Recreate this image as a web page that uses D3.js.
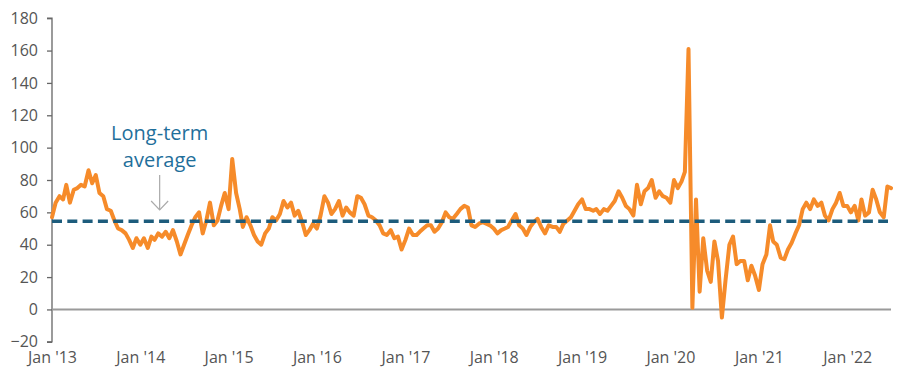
<!DOCTYPE html>
<html>
<head>
<meta charset="utf-8">
<script src="https://cdn.jsdelivr.net/npm/d3@7"></script>
<style>
  html, body { margin: 0; padding: 0; background: #fff; }
  svg { display: block; }
  text { font-family: "Open Sans", "Noto Sans", sans-serif; }
</style>
</head>
<body>
<svg id="chart" width="900" height="378"></svg>
<script>
// Semi-monthly readings (1st and 16th of each month) from Jan 2013 to Jul 2022
const startDate = "2013-01-01";
const values = [
  // 2013
  57, 66, 70, 68, 77, 66, 74, 75, 77, 76, 86, 78, 83, 72, 70, 62, 61, 55, 50, 49, 47, 43, 38, 44,
  // 2014
  40, 44, 38, 45, 43, 47, 45, 48, 44, 49, 42, 34, 40, 46, 52, 57, 60, 47, 55, 66, 52, 55, 64, 72,
  // 2015
  62, 93, 72, 62, 51, 57, 52, 46, 42, 40, 47, 50, 57, 55, 59, 67, 63, 66, 58, 61, 54, 46, 49, 53,
  // 2016
  50, 58, 70, 66, 59, 62, 67, 58, 63, 60, 58, 70, 69, 65, 58, 57, 55, 52, 47, 46, 49, 44, 45, 37,
  // 2017
  43, 50, 46, 46, 48, 50, 52, 52, 48, 50, 54, 60, 57, 56, 59, 62, 64, 63, 52, 51, 53, 54, 53, 52,
  // 2018
  50, 47, 49, 50, 51, 55, 59, 52, 50, 46, 51, 54, 56, 51, 47, 52, 51, 51, 48, 53, 55, 57, 61, 65,
  // 2019
  68, 62, 62, 61, 62, 59, 62, 61, 64, 67, 73, 69, 64, 62, 58, 77, 65, 73, 75, 80, 69, 73, 70, 69,
  // 2020
  66, 80, 75, 79, 85, 161, 1, 68, 11, 44, 24, 17, 42, 30, -5, 18, 40, 45, 28, 30, 30, 18, 27, 21,
  // 2021
  12, 28, 34, 52, 42, 40, 32, 31, 37, 41, 47, 52, 62, 66, 62, 68, 64, 66, 58, 55, 62, 66, 72, 64,
  // 2022
  64, 60, 64, 55, 68, 58, 60, 74, 68, 60, 57, 76, 75
];
const longTermAverage = 54.5;
const yTicks = [-20, 0, 20, 40, 60, 80, 100, 120, 140, 160, 180];
const xTickLabels = ["Jan '13", "Jan '14", "Jan '15", "Jan '16", "Jan '17", "Jan '18", "Jan '19", "Jan '20", "Jan '21", "Jan '22"];
const xTickYears = [2013, 2014, 2015, 2016, 2017, 2018, 2019, 2020, 2021, 2022];
const annotationLines = ["Long-term", "average"];
const annotationDate = "2014-03-22";

const parse = d3.timeParse("%Y-%m-%d");
const start = parse(startDate);
const data = values.map((v, i) => {
  const m = d3.timeMonth.offset(start, Math.floor(i / 2));
  return { date: i % 2 ? d3.timeDay.offset(m, 15) : m, value: v };
});

const svg = d3.select("#chart");
const margin = { left: 52 };

const x = d3.scaleTime()
  .domain([parse("2013-01-01"), parse("2022-07-01")])
  .range([margin.left, 891]);
const y = d3.scaleLinear()
  .domain([-20, 180])
  .range([341.8, 18.2]);

// Y axis
const yAxis = d3.axisLeft(y).tickValues(yTicks).tickSize(5).tickPadding(9);
const gy = svg.append("g").attr("transform", `translate(${margin.left},0)`).call(yAxis);
gy.select(".domain").attr("stroke", "#666").attr("stroke-width", 1.3)
  .attr("d", `M-5,${y(180)}H0V${y(-20)}H-5`);
gy.selectAll(".tick line").attr("stroke", "#666").attr("stroke-width", 1.3);
gy.selectAll(".tick text").attr("fill", "#555").style("font-size", "16px");

// Zero line
svg.append("line")
  .attr("x1", x.range()[0]).attr("x2", x.range()[1])
  .attr("y1", y(0)).attr("y2", y(0))
  .attr("stroke", "#9a9a9a").attr("stroke-width", 2);

// X labels
const xAxis = d3.axisBottom(x)
  .tickValues(xTickYears.map(yr => new Date(yr, 0, 1)))
  .tickFormat((d, i) => xTickLabels[i])
  .tickSize(0).tickPadding(0);
const gx = svg.append("g").attr("transform", `translate(0,352)`).call(xAxis);
gx.select(".domain").remove();
gx.selectAll(".tick text").attr("fill", "#555").style("font-size", "16px").attr("dy", "0.71em");

// Series line
const line = d3.line().x(d => x(d.date)).y(d => y(d.value)).curve(d3.curveLinear);
svg.append("path")
  .datum(data)
  .attr("fill", "none")
  .attr("stroke", "#f68b2a")
  .attr("stroke-width", 4)
  .attr("stroke-linejoin", "round")
  .attr("stroke-linecap", "round")
  .attr("d", line);

// Long-term average
svg.append("line")
  .attr("x1", x.range()[0]).attr("x2", 888)
  .attr("y1", y(longTermAverage)).attr("y2", y(longTermAverage))
  .attr("stroke", "#1d5c7c").attr("stroke-width", 3.5)
  .attr("stroke-dasharray", "10,5.3");

// Annotation
const ax = x(parse(annotationDate));
const ann = svg.append("text").attr("text-anchor", "middle").attr("fill", "#1f6f9b")
  .style("font-size", "20px");
ann.selectAll("tspan").data(annotationLines).join("tspan")
  .attr("x", ax).attr("y", (d, i) => 140 + i * 27).text(d => d);

svg.append("line").attr("x1", ax).attr("x2", ax).attr("y1", 175).attr("y2", 210)
  .attr("stroke", "#aaa").attr("stroke-width", 1.2);
svg.append("path").attr("d", `M${ax - 8.5},201L${ax},210L${ax + 8.5},201`)
  .attr("fill", "none").attr("stroke", "#aaa").attr("stroke-width", 1.2);
</script>
</body>
</html>
